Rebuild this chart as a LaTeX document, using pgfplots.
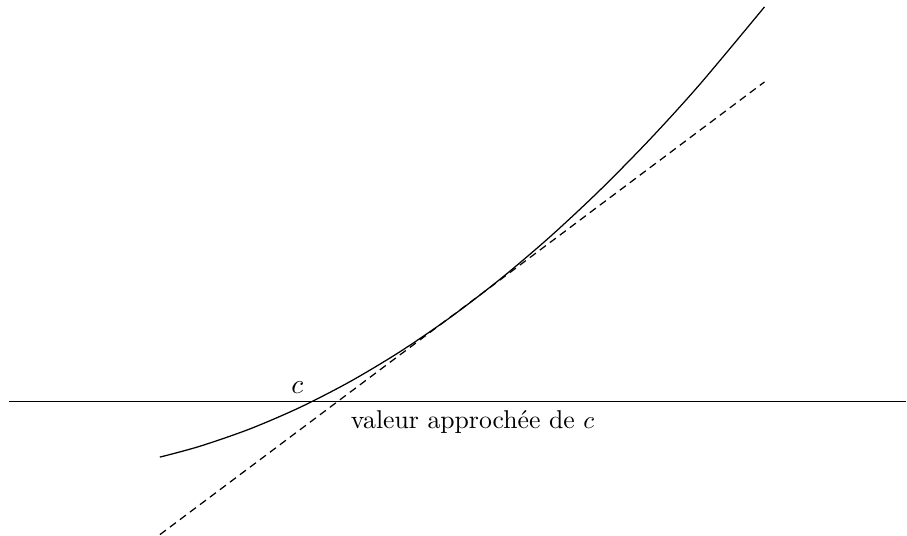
\documentclass[border=0pt]{standalone}
\usepackage{pgfplots}
\pgfplotsset{compat=1.18}
\begin{document}
\begin{tikzpicture}
\begin{axis}[
  hide axis, scale only axis, clip=false,
  width=362.8pt, height=214pt,
  xmin=0, xmax=907, ymin=0, ymax=535,
]
\addplot[draw=none] coordinates {(0,0) (907,535)};
\addplot[black, line width=0.5pt] coordinates {(9,133) (907,133)};
\addplot[black, line width=0.5pt, smooth] coordinates {
(160,77.57) (200,88.42) (250,105.75) (300,127.26) (350,152.97) (400,182.87)
(450,216.96) (500,255.24) (550,297.70) (600,344.36) (650,395.21) (700,450.25) (765,528.06)};
\addplot[black, line width=0.5pt, dash pattern=on 3pt off 2pt] coordinates {(160,0) (765,453)};
\node[anchor=center] at (axis cs:297.5,147.5) {\fontsize{10.5}{12}\selectfont $c$};
\node[anchor=base west, inner sep=0pt] at (axis cs:350.7,105.7) {\fontsize{10.3}{12}\selectfont valeur approchée de $c$};
\end{axis}
\end{tikzpicture}
\end{document}
